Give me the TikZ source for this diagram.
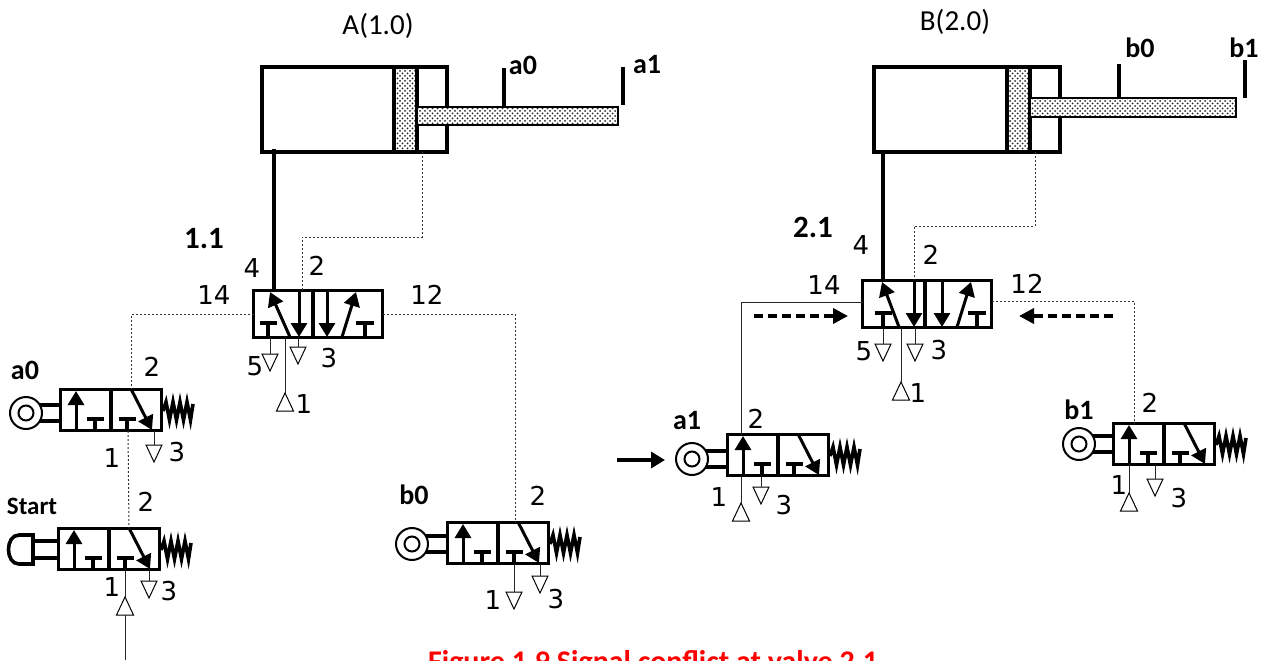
\documentclass[tikz,border=0pt]{standalone}
\usepackage{fontspec}
\setmainfont{Carlito}
\newfontfamily\numfont{DejaVu Sans}
\usetikzlibrary{arrows.meta,patterns}
\pgfdeclarepatternformonly{coarsedots}{\pgfqpoint{-1.2pt}{-1.2pt}}{\pgfqpoint{6pt}{6pt}}{\pgfqpoint{5pt}{5pt}}{
  \pgfpathcircle{\pgfqpoint{0pt}{0pt}}{1pt}
  \pgfpathcircle{\pgfqpoint{2.5pt}{2.5pt}}{1pt}
  \pgfusepath{fill}}
\tikzset{
  heavy/.style={line width=3.6pt},
  flow/.style={line width=3pt,-{Triangle[length=14pt,width=16pt]}},
  thinline/.style={line width=1pt,black!85},
  sigdot/.style={line width=1pt,black!80,dash pattern=on 2pt off 2pt},
  dashflow/.style={line width=3.6pt,dash pattern=on 9pt off 5pt,-{Triangle[length=15pt,width=15pt]}},
  valvebox/.style={draw,line width=3.8pt,inner sep=0pt,outer sep=0pt,anchor=north west},
  dotfill/.style={preaction={fill=white},pattern=coarsedots,pattern color=black!85},
  numlab/.style={inner sep=0pt,font=\numfont\fontsize{26}{26}\selectfont},
  boldlab/.style={inner sep=0pt,font=\bfseries\fontsize{28}{28}\selectfont},
  bignum/.style={inner sep=0pt,font=\bfseries\fontsize{31}{31}\selectfont},
  titlelab/.style={inner sep=0pt,font=\fontsize{29}{29}\selectfont},
  pics/valvethree/.style={code={
    \node[valvebox,minimum width=101pt,minimum height=41pt] (-box) at (0.5,0.5) {};
    \draw[heavy] (51,0) -- (51,42);
    \draw[flow] (16,42) -- (16,2);
    \draw[heavy] (35,42) -- (35,30) (27,30) -- (44,30);
    \draw[heavy] (67,42) -- (67,30) (59,30) -- (76,30);
    \draw[flow] (71,0) -- (92,41);
    \draw[line width=3.6pt] (103,22) -- (106,13) -- (109.5,31) -- (113,13) -- (116.5,31)
      -- (120,13) -- (123.5,31) -- (127,13) -- (130.5,31) -- (133,15);
    \coordinate (-two) at (71,0);
  }},
  pics/valvefive/.style={code={
    \node[valvebox,minimum width=129pt,minimum height=47pt] (-box) at (0.5,0.5) {};
    \draw[heavy] ({60+#1/2},0) -- ({60+#1/2},48);
    \draw[flow] (37,47) -- ({17+#1/2},2);
    \draw[flow] ({46+#1},0) -- ({46+#1},47);
    \draw[flow] ({74+#1},0) -- ({74+#1},47);
    \draw[flow] ({89+#1},47) -- ({103+#1},2);
    \draw[heavy] ({15+#1},48) -- ({15+#1},33) ({7+#1},33) -- ({24+#1},33);
    \draw[heavy] ({112+#1/2},48) -- ({112+#1/2},33) ({103+#1/2},33) -- ({121+#1/2},33);
  }},
  pics/ventdown/.style={code={
    \draw[line width=1pt] (-8,0) -- (8,0) -- (0,17) -- cycle;
    \coordinate (-top) at (0,0);
  }},
  pics/supplyup/.style={code={
    \draw[line width=1pt] (0,0) -- (8.5,18) -- (-8.5,18) -- cycle;
    \coordinate (-top) at (0,0);
    \coordinate (-base) at (0,18);
  }},
  pics/roller/.style={code={
    \draw[line width=2pt] (0,0) circle (16pt);
    \draw[line width=2pt] (0,0) circle (7.5pt);
    \draw[heavy] (14,-8) -- (34,-8) (14,8) -- (34,8);
  }},
  pics/knob/.style={code={
    \draw[heavy] (24,-14) -- (10,-14) .. controls (-4,-14) and (-4,15) .. (10,15) -- (24,15) -- cycle;
    \draw[heavy] (24,-8) -- (49,-8) (24,9) -- (49,9);
  }},
}
\begin{document}
\begin{tikzpicture}[x=1pt,y=-1pt]
  \useasboundingbox (0,0) rectangle (1266,661);

  \node[valvebox,minimum width=185pt,minimum height=85pt] (cyla) at (262,67) {};
  \node[valvebox,minimum width=23pt,minimum height=85pt,dotfill] (pista) at (394,67) {};
  \node[valvebox,line width=2pt,minimum width=201pt,minimum height=18pt,dotfill] (roda) at (417,107) {};
  \node[valvebox,minimum width=186pt,minimum height=85pt] (cylb) at (874,67) {};
  \node[valvebox,minimum width=23pt,minimum height=85pt,dotfill] (pistb) at (1007,67) {};
  \node[valvebox,line width=2pt,minimum width=206pt,minimum height=19pt,dotfill] (rodb) at (1030,98) {};

  \coordinate (a0top) at (504,68);
  \coordinate (a1top) at (623,67);
  \coordinate (b0top) at (1119,64);
  \coordinate (b1top) at (1245,60);
  \draw[heavy] (a0top) -- (a0top |- roda.north);
  \draw[heavy] (a1top) -- ++(0,38);
  \draw[heavy] (b0top) -- (b0top |- rodb.north);
  \draw[heavy] (b1top) -- ++(0,38);

  \pic (v11) at (253,290) {valvefive=0};
  \pic (v21) at (862,280) {valvefive=6};
  \pic (va0) at (60,389) {valvethree};
  \pic (vst) at (58,528) {valvethree};
  \pic (vb0) at (447,522) {valvethree};
  \pic (va1) at (727,434) {valvethree};
  \pic (vb1) at (1113,423) {valvethree};
  \pic (ra0) at (26,413) {roller};
  \pic (rb0) at (412,544) {roller};
  \pic (ra1) at (692,459) {roller};
  \pic (rb1) at (1079,444) {roller};
  \pic (kst) at (9,549) {knob};

  \pic (x115) at (270,354) {ventdown};
  \pic (x113) at (298,347) {ventdown};
  \pic (s111) at (285,393) {supplyup};
  \pic (x215) at (883,344) {ventdown};
  \pic (x213) at (915,344) {ventdown};
  \pic (s211) at (901,382) {supplyup};
  \pic (xa03) at (154,445) {ventdown};
  \pic (xst3) at (149,581) {ventdown};
  \pic (sst1) at (125,597) {supplyup};
  \pic (xb01) at (514,592) {ventdown};
  \pic (xb03) at (540,576) {ventdown};
  \pic (xa13) at (761,487) {ventdown};
  \pic (sa11) at (741,503) {supplyup};
  \pic (xb13) at (1155,479) {ventdown};
  \pic (sb11) at (1129,493) {supplyup};

  \foreach \vent/\valve in {x115/v11,x113/v11,s111/v11,x215/v21,x213/v21,s211/v21,xa03/va0,xst3/vst,sst1/vst,xb01/vb0,xb03/vb0,xa13/va1,sa11/va1,xb13/vb1,sb11/vb1}
    \draw[thinline] (\vent-top) -- (\vent-top |- \valve-box.south);

  \coordinate (stend) at (125,660);
  \coordinate (a4port) at (274,149);
  \coordinate (b4port) at (883,152);
  \coordinate (a2port) at (302,290);
  \coordinate (b2port) at (914,280);
  \coordinate (a3turn) at (422,237);
  \coordinate (b3turn) at (1035,226);
  \coordinate (a0out) at (128,431);
  \coordinate (b0turn) at (515,314);
  \coordinate (b1turn) at (1134,301);
  \coordinate (a1turn) at (741,302);
  \coordinate (a1hit) at (617,460);
  \coordinate (a1tip) at (665,460);
  \coordinate (dl1) at (754,316);
  \coordinate (dl2) at (848,316);
  \coordinate (dr1) at (1113,316);
  \coordinate (dr2) at (1019,316);

  \draw[thinline] (sst1-base) -- (stend);
  \draw[line width=3.6pt] (a4port) -- (a4port |- v11-box.north);
  \draw[line width=3.6pt] (b4port) -- (b4port |- v21-box.north);
  \draw[sigdot] (cyla.south -| a3turn) -- (a3turn) -| (a2port);
  \draw[sigdot] (cylb.south -| b3turn) -- (b3turn) -| (b2port);
  \draw[sigdot] (v11-box.west) -| (va0-two);
  \draw[sigdot] (a0out) -- (vst-two);
  \draw[sigdot] (v11-box.east) -- (b0turn) -- (b0turn |- vb0-box.north);
  \draw[thinline] (v21-box.west |- a1turn) -- (a1turn) -- (a1turn |- va1-box.north);
  \draw[sigdot] (v21-box.east |- b1turn) -- (b1turn) -- (b1turn |- vb1-box.north);
  \draw[line width=3.6pt,-{Triangle[length=14pt,width=16pt]}] (a1hit) -- (a1tip);
  \draw[dashflow] (dl1) -- (dl2);
  \draw[dashflow] (dr1) -- (dr2);

  \node[titlelab] (ttla) at (378,26) {A(1.0)};
  \node[titlelab] (ttlb) at (955,22) {B(2.0)};
  \node[boldlab] (ca0) at (523,65) {a0};
  \node[boldlab] (ca1) at (647,65) {a1};
  \node[boldlab] (cb0) at (1140,48) {b0};
  \node[boldlab] (cb1) at (1244,48) {b1};
  \node[bignum] (t11) at (204,239) {1.1};
  \node[bignum] (t21) at (813,227) {2.1};
  \node[boldlab] (ta0) at (25,370) {a0};
  \node[boldlab] (tb0) at (414,495) {b0};
  \node[boldlab] (ta1) at (687,421) {a1};
  \node[boldlab] (tb1) at (1079,410) {b1};
  \node[inner sep=0pt,font=\bfseries\fontsize{25}{25}\selectfont] (tst) at (32,506) {Start};

  \node[numlab] (n114) at (252,268) {4};
  \node[numlab] (n112) at (317,266) {2};
  \node[numlab] (n1114) at (214,295) {14};
  \node[numlab] (n1112) at (427,295) {12};
  \node[numlab] (n115) at (255,366) {5};
  \node[numlab] (n113) at (329,358) {3};
  \node[numlab] (n111) at (304,404) {1};
  \node[numlab] (n214) at (861,245) {4};
  \node[numlab] (n212) at (931,255) {2};
  \node[numlab] (n2114) at (824,285) {14};
  \node[numlab] (n2112) at (1027,284) {12};
  \node[numlab] (n215) at (864,351) {5};
  \node[numlab] (n213) at (939,350) {3};
  \node[numlab] (n211) at (918,393) {1};
  \node[numlab] (na02) at (152,367) {2};
  \node[numlab] (na01) at (112,458) {1};
  \node[numlab] (na03) at (177,452) {3};
  \node[numlab] (nst2) at (146,502) {2};
  \node[numlab] (nst1) at (112,587) {1};
  \node[numlab] (nst3) at (169,591) {3};
  \node[numlab] (nb02) at (538,496) {2};
  \node[numlab] (nb01) at (493,600) {1};
  \node[numlab] (nb03) at (556,599) {3};
  \node[numlab] (na12) at (756,419) {2};
  \node[numlab] (na11) at (719,497) {1};
  \node[numlab] (na13) at (784,505) {3};
  \node[numlab] (nb12) at (1150,403) {2};
  \node[numlab] (nb11) at (1119,485) {1};
  \node[numlab] (nb13) at (1179,498) {3};

  \node[inner sep=0pt,anchor=base,text=red,font=\bfseries\fontsize{30}{30}\selectfont] (capt) at (653,671) {Figure 1.9 Signal conflict at valve 2.1};
\end{tikzpicture}
\end{document}
